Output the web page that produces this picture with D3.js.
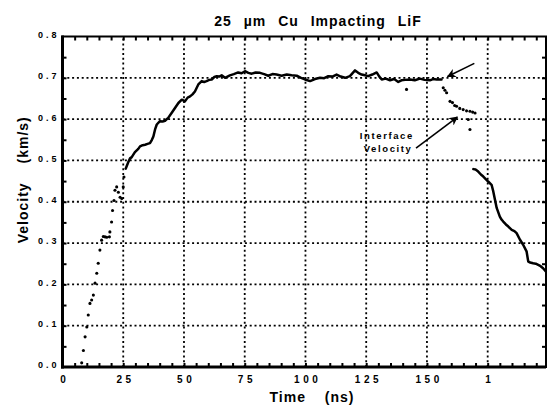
<!DOCTYPE html>
<html>
<head>
<meta charset="utf-8">
<script src="https://cdn.jsdelivr.net/npm/d3@7"></script>
<style>
html,body{margin:0;padding:0;background:#fff;}
svg{display:block;}
text{font-family:"Liberation Sans",Arial,Helvetica,sans-serif;font-weight:bold;fill:#000;}
</style>
</head>
<body>
<svg id="chart" width="547" height="405"></svg>
<script>
// ---- data ----
const titleText = "25 \u00B5m Cu Impacting LiF";
const xLabel = "Time (ns)";
const yLabel = "Velocity (km/s)";
const xTickValues = [0, 25, 50, 75, 100, 125, 150, 175];
const xTickLabels = ["0", "25", "50", "75", "100", "125", "150", "1"];
const yTickValues = [0, 0.1, 0.2, 0.3, 0.4, 0.5, 0.6, 0.7, 0.8];
const yTickLabels = ["0.0", "0.1", "0.2", "0.3", "0.4", "0.5", "0.6", "0.7", "0.8"];

// early rise, sampled dots (time ns, velocity km/s)
const riseTime = [7.9, 8.6, 9.3, 10, 10.6, 11.3, 12, 12.7, 13.4, 14.1, 14.7, 15.4, 16.1, 16.8, 17.5, 18.2, 19.3, 19.5, 20.2, 20.6, 21.2, 21.6, 22.3, 23, 23.7, 24.4, 25, 25.3];
const riseVel  = [0.01, 0.04, 0.073, 0.097, 0.126, 0.154, 0.162, 0.174, 0.203, 0.227, 0.251, 0.283, 0.307, 0.316, 0.315, 0.314, 0.315, 0.327, 0.351, 0.379, 0.403, 0.428, 0.436, 0.423, 0.411, 0.408, 0.436, 0.46];

// continuous trace, plateau part
const plateauTime = [26, 27.1, 27.8, 28.5, 29.8, 31.2, 31.9, 33, 34, 35, 36, 36.8, 37.4, 38.1, 38.8, 40.1, 41.2, 42.2, 43.5, 44.9, 46.3, 47.7, 49.1, 50.4, 51.5, 52.5, 53.5, 54.5, 55.9, 57.3, 58.3, 59.3, 60.4, 61.4, 62.5, 63.5, 64.5, 65.5, 66.9, 68.9, 70.5, 72.3, 73.7, 75.1, 76.5, 77.9, 79.5, 81.3, 83, 84.7, 86.4, 88.1, 90.2, 92.3, 94.3, 96.4, 98.2, 99.8, 101.9, 103.9, 106, 107.7, 109.4, 111.1, 112.8, 114.5, 116.3, 118.3, 120.4, 121.7, 123.1, 124.5, 125.8, 127.5, 129.3, 130.4, 131.4, 133, 134.8, 136.5, 138.2, 139.5, 141, 143, 145, 147.1, 149, 151.2, 152.5, 154, 156];
const plateauVel  = [0.48, 0.496, 0.505, 0.508, 0.52, 0.528, 0.534, 0.537, 0.538, 0.54, 0.542, 0.55, 0.558, 0.575, 0.587, 0.595, 0.594, 0.596, 0.603, 0.615, 0.627, 0.639, 0.647, 0.643, 0.652, 0.655, 0.66, 0.667, 0.684, 0.692, 0.69, 0.692, 0.695, 0.696, 0.702, 0.704, 0.703, 0.706, 0.7, 0.706, 0.709, 0.713, 0.711, 0.716, 0.712, 0.71, 0.713, 0.712, 0.709, 0.705, 0.709, 0.708, 0.705, 0.708, 0.706, 0.705, 0.7, 0.696, 0.692, 0.697, 0.7, 0.699, 0.704, 0.703, 0.708, 0.703, 0.7, 0.704, 0.718, 0.712, 0.708, 0.706, 0.704, 0.708, 0.713, 0.703, 0.696, 0.698, 0.694, 0.697, 0.69, 0.694, 0.695, 0.696, 0.694, 0.698, 0.695, 0.694, 0.697, 0.696, 0.696];

// interface-velocity drop, sampled dots
const dropTime = [156.7, 157.4, 158.1, 159.5, 160.5, 161.4, 162.2, 163.5, 164.9, 166.3, 167.7, 168.8, 169.8, 167, 167.7, 141.6];
const dropVel  = [0.676, 0.67, 0.664, 0.643, 0.64, 0.633, 0.631, 0.626, 0.623, 0.62, 0.619, 0.617, 0.615, 0.599, 0.575, 0.672];

// continuous trace, release part
const releaseTime = [169.1, 170, 171.1, 172.2, 173.2, 174.2, 175.2, 176.6, 177.3, 178, 178.7, 180, 180.7, 181.4, 182.5, 183.5, 184.9, 186, 186.9, 188.3, 189.6, 191, 191.7, 192.5, 193.7, 194.8, 195.8, 196.8, 197.8, 199];
const releaseVel  = [0.479, 0.478, 0.473, 0.466, 0.461, 0.455, 0.449, 0.441, 0.425, 0.405, 0.385, 0.364, 0.357, 0.352, 0.345, 0.34, 0.332, 0.329, 0.324, 0.308, 0.296, 0.28, 0.255, 0.253, 0.251, 0.25, 0.247, 0.244, 0.239, 0.231];

// annotation text
const noteText = ["Interface", "Velocity"];

// ---- drawing ----
const svg = d3.select("#chart");
const x = d3.scaleLinear().domain([0, 199]).range([62.5, 546]);
const y = d3.scaleLinear().domain([0, 0.8]).range([367, 36.5]);
const [L, R] = x.range();
const [B, T] = y.range();

// gridlines (dotted)
const grid = svg.append("g").attr("stroke", "#000").attr("stroke-width", 1.8).attr("stroke-dasharray", "2 2.8");
grid.selectAll(".gx").data(xTickValues.filter(v => v > 0)).join("line")
  .attr("x1", d => x(d)).attr("x2", d => x(d)).attr("y1", B).attr("y2", T);
grid.selectAll(".gy").data(yTickValues.filter(v => v > 0 && v < 0.8)).join("line")
  .attr("y1", d => y(d)).attr("y2", d => y(d)).attr("x1", L).attr("x2", R);

// minor/major ticks inward on all sides
const xMinor = d3.range(5, 199, 5);
const yMinor = d3.range(0.05, 0.8, 0.05);
const tickSize = 4;
svg.append("g").attr("transform", `translate(0,${B})`)
  .call(d3.axisBottom(x).tickValues(xMinor).tickSize(-tickSize).tickFormat(""))
  .call(g => g.select(".domain").remove())
  .call(g => g.selectAll("line").attr("stroke-width", 2));
svg.append("g").attr("transform", `translate(0,${T})`)
  .call(d3.axisTop(x).tickValues(xMinor).tickSize(-tickSize).tickFormat(""))
  .call(g => g.select(".domain").remove())
  .call(g => g.selectAll("line").attr("stroke-width", 2));
svg.append("g").attr("transform", `translate(${L},0)`)
  .call(d3.axisLeft(y).tickValues(yMinor).tickSize(-tickSize).tickFormat(""))
  .call(g => g.select(".domain").remove())
  .call(g => g.selectAll("line").attr("stroke-width", 2));
svg.append("g").attr("transform", `translate(${R},0)`)
  .call(d3.axisRight(y).tickValues(yMinor).tickSize(-tickSize).tickFormat(""))
  .call(g => g.select(".domain").remove())
  .call(g => g.selectAll("line").attr("stroke-width", 2));

// frame
svg.append("rect").attr("x", L).attr("y", T).attr("width", R - L).attr("height", B - T)
  .attr("fill", "none").attr("stroke", "#000").attr("stroke-width", 2);
svg.append("line").attr("x1", L).attr("x2", L).attr("y1", T - 1).attr("y2", B + 1.5).attr("stroke", "#000").attr("stroke-width", 3);
svg.append("line").attr("x1", L - 1.5).attr("x2", R).attr("y1", B).attr("y2", B).attr("stroke", "#000").attr("stroke-width", 3);

// tick labels
svg.append("g").attr("transform", `translate(0,${B})`)
  .call(d3.axisBottom(x).tickValues(xTickValues).tickSize(0).tickPadding(9)
    .tickFormat((d, i) => xTickLabels[i]))
  .call(g => g.select(".domain").remove())
  .call(g => g.selectAll("text").attr("font-size", 10).attr("font-family", "Liberation Sans, Arial, sans-serif")
    .attr("font-weight", "bold").style("letter-spacing", "3.5px").attr("dx", "1.7px"));
svg.append("g").attr("transform", `translate(${L},0)`)
  .call(d3.axisLeft(y).tickValues(yTickValues).tickSize(0).tickPadding(3)
    .tickFormat((d, i) => yTickLabels[i]))
  .call(g => g.select(".domain").remove())
  .call(g => g.selectAll("text").attr("font-size", 9).attr("font-family", "Liberation Sans, Arial, sans-serif")
    .attr("font-weight", "bold").style("letter-spacing", "3px").attr("dy", "0.1em"));

// data: continuous traces
const line = d3.line().x(d => x(d[0])).y(d => y(d[1]));
const plateau = d3.zip(plateauTime, plateauVel);
const release = d3.zip(releaseTime, releaseVel);
[plateau, release].forEach(pts => {
  svg.append("path").datum(pts).attr("d", line)
    .attr("fill", "none").attr("stroke", "#000").attr("stroke-width", 2.5)
    .attr("stroke-linejoin", "round").attr("stroke-linecap", "round");
});
// data: sampled dots
const dots = d3.zip(riseTime, riseVel).concat(d3.zip(dropTime, dropVel));
svg.append("g").selectAll("circle").data(dots).join("circle")
  .attr("cx", d => x(d[0])).attr("cy", d => y(d[1])).attr("r", 1.55).attr("fill", "#000");

// annotations
const defs = svg.append("defs");
defs.append("marker").attr("id", "ah").attr("viewBox", "0 0 10 10").attr("refX", 9).attr("refY", 5)
  .attr("markerWidth", 9).attr("markerHeight", 9).attr("markerUnits", "userSpaceOnUse").attr("orient", "auto")
  .append("path").attr("d", "M0,0 L10,5 L0,10 L3,5 Z").attr("fill", "#000");
svg.append("line").attr("x1", x(169.5)).attr("y1", y(0.735)).attr("x2", x(158.5)).attr("y2", y(0.703))
  .attr("stroke", "#000").attr("stroke-width", 1.6).attr("marker-end", "url(#ah)");
svg.append("line").attr("x1", x(145.5)).attr("y1", y(0.53)).attr("x2", x(162.5)).attr("y2", y(0.605))
  .attr("stroke", "#000").attr("stroke-width", 1.6).attr("marker-end", "url(#ah)");
const note = svg.append("text").attr("font-size", 9.5).style("letter-spacing", "1.6px").attr("text-anchor", "middle");
note.append("tspan").attr("x", x(133.5)).attr("y", y(0.553)).text(noteText[0]);
note.append("tspan").attr("x", x(134)).attr("y", y(0.52)).text(noteText[1]);

// title and axis labels
svg.append("text").attr("x", 318).attr("y", 26).attr("text-anchor", "middle").attr("font-size", 14)
  .style("letter-spacing", "1px").style("word-spacing", "7px").text(titleText);
svg.append("text").attr("x", 312).attr("y", 402).attr("text-anchor", "middle").attr("font-size", 14)
  .style("letter-spacing", "1px").style("word-spacing", "14px").text(xLabel);
svg.append("text").attr("transform", `translate(28,${(T + B) / 2 - 22}) rotate(-90)`).attr("text-anchor", "middle")
  .attr("font-size", 14).style("letter-spacing", "1px").style("word-spacing", "14px").text(yLabel);
</script>
</body>
</html>
